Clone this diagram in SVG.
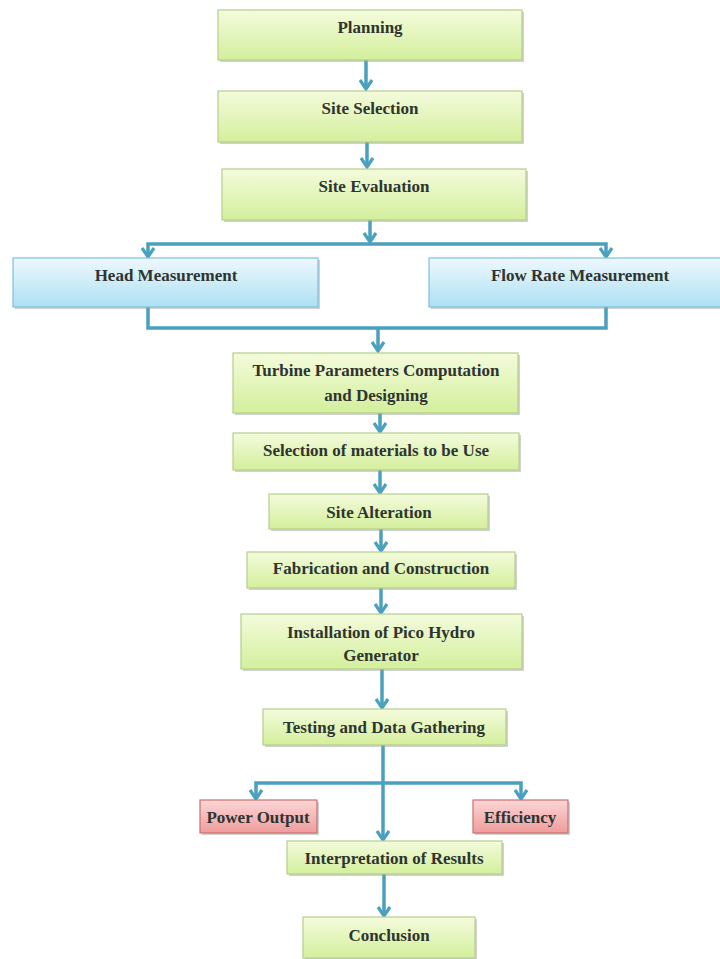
<svg xmlns="http://www.w3.org/2000/svg" width="720" height="959" viewBox="0 0 720 959">
<defs>
<linearGradient id="gGreen" x1="0" y1="0" x2="0" y2="1">
<stop offset="0" stop-color="#f4fbdc"/>
<stop offset="1" stop-color="#d3ef9c"/>
</linearGradient>
<linearGradient id="gBlue" x1="0" y1="0" x2="0" y2="1">
<stop offset="0" stop-color="#eef8fd"/>
<stop offset="1" stop-color="#ade0f4"/>
</linearGradient>
<linearGradient id="gRed" x1="0" y1="0" x2="0" y2="1">
<stop offset="0" stop-color="#fbd6d6"/>
<stop offset="1" stop-color="#f09c9c"/>
</linearGradient>
<marker id="arr" viewBox="-12 -8 14 16" refX="0" refY="0" markerWidth="14" markerHeight="16" markerUnits="userSpaceOnUse" orient="auto">
<path d="M-9,-6 L0,0 L-9,6" fill="none" stroke="#4aa0bf" stroke-width="3.2" stroke-linejoin="miter"/>
</marker>
</defs>
<style>
.sh{fill:#9a9a9a;opacity:0.45}
.gr{fill:url(#gGreen);stroke:#b5cf8a;stroke-width:1.2}
.bl{fill:url(#gBlue);stroke:#7cc0da;stroke-width:1.2}
.rd{fill:url(#gRed);stroke:#c87070;stroke-width:1.2}
text{font-family:"Liberation Serif","Times New Roman",serif;font-size:17px;font-weight:bold;fill:#2e3430;text-anchor:middle}
.c{fill:none;stroke:#4aa0bf;stroke-width:3.5}
.ca{fill:none;stroke:#4aa0bf;stroke-width:3.5;marker-end:url(#arr)}
</style>
<rect width="720" height="959" fill="#ffffff"/>
<g id="connectors">
<path class="ca" d="M366,60 V89"/>
<path class="ca" d="M367,142 V167"/>
<path class="ca" d="M370,220 V242"/>
<path class="ca" d="M370,244 H148 V257"/>
<path class="ca" d="M370,244 H606 V257"/>
<path class="c" d="M148,307 V328 H606 V307"/>
<path class="ca" d="M378,328 V351"/>
<path class="ca" d="M380,413 V432"/>
<path class="ca" d="M380,470 V493"/>
<path class="ca" d="M381,529 V551"/>
<path class="ca" d="M381,588 V613"/>
<path class="ca" d="M382,669 V708"/>
<path class="ca" d="M383,745 V840"/>
<path class="ca" d="M383,783 H256 V799"/>
<path class="ca" d="M383,783 H521 V799"/>
<path class="ca" d="M384,874 V916"/>
</g>
<g id="planning">
<rect class="sh" x="220" y="12" width="304" height="50"/>
<rect class="gr" x="218" y="10" width="304" height="50"/>
<text x="370" y="33">Planning</text>
</g>
<g id="site-selection">
<rect class="sh" x="220" y="93" width="304" height="51"/>
<rect class="gr" x="218" y="91" width="304" height="51"/>
<text x="370" y="114">Site Selection</text>
</g>
<g id="site-evaluation">
<rect class="sh" x="224" y="171" width="304" height="51"/>
<rect class="gr" x="222" y="169" width="304" height="51"/>
<text x="374" y="192">Site Evaluation</text>
</g>
<g id="head-measurement">
<rect class="sh" x="15" y="260" width="305" height="49"/>
<rect class="bl" x="13" y="258" width="305" height="49"/>
<text x="166" y="281">Head Measurement</text>
</g>
<g id="flow-rate-measurement">
<rect class="sh" x="431" y="260" width="292" height="49"/>
<rect class="bl" x="429" y="258" width="292" height="49"/>
<text x="580" y="281">Flow Rate Measurement</text>
</g>
<g id="turbine-parameters">
<rect class="sh" x="235" y="355" width="285" height="60"/>
<rect class="gr" x="233" y="353" width="285" height="60"/>
<text x="376" y="376">Turbine Parameters Computation</text>
<text x="376" y="401">and Designing</text>
</g>
<g id="selection-materials">
<rect class="sh" x="235" y="435" width="286" height="37"/>
<rect class="gr" x="233" y="433" width="286" height="37"/>
<text x="376" y="456">Selection of materials to be Use</text>
</g>
<g id="site-alteration">
<rect class="sh" x="271" y="496" width="219" height="35"/>
<rect class="gr" x="269" y="494" width="219" height="35"/>
<text x="379" y="518">Site Alteration</text>
</g>
<g id="fabrication">
<rect class="sh" x="249" y="554" width="268" height="36"/>
<rect class="gr" x="247" y="552" width="268" height="36"/>
<text x="381" y="574">Fabrication and Construction</text>
</g>
<g id="installation">
<rect class="sh" x="243" y="616" width="281" height="55"/>
<rect class="gr" x="241" y="614" width="281" height="55"/>
<text x="381" y="638">Installation of Pico Hydro</text>
<text x="381" y="661">Generator</text>
</g>
<g id="testing">
<rect class="sh" x="265" y="711" width="243" height="36"/>
<rect class="gr" x="263" y="709" width="243" height="36"/>
<text x="384" y="733">Testing and Data Gathering</text>
</g>
<g id="power-output">
<rect class="sh" x="202" y="802" width="117" height="33"/>
<rect class="rd" x="200" y="800" width="117" height="33"/>
<text x="258" y="823">Power Output</text>
</g>
<g id="efficiency">
<rect class="sh" x="475" y="802" width="95" height="33"/>
<rect class="rd" x="473" y="800" width="95" height="33"/>
<text x="520" y="823">Efficiency</text>
</g>
<g id="interpretation">
<rect class="sh" x="289" y="843" width="215" height="33"/>
<rect class="gr" x="287" y="841" width="215" height="33"/>
<text x="394" y="864">Interpretation of Results</text>
</g>
<g id="conclusion">
<rect class="sh" x="305" y="919" width="172" height="42"/>
<rect class="gr" x="303" y="917" width="172" height="41"/>
<text x="389" y="941">Conclusion</text>
</g>
</svg>
